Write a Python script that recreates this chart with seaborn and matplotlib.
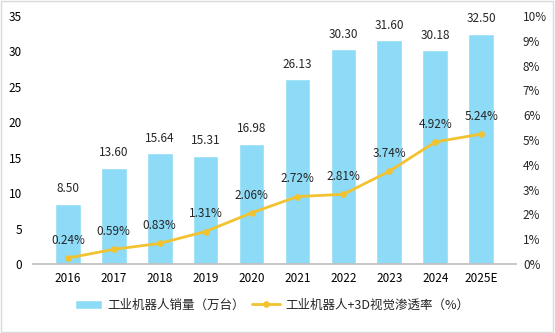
import matplotlib
matplotlib.use("Agg")
import matplotlib.pyplot as plt
import seaborn as sns
import pandas as pd
import numpy as np
from matplotlib.ticker import FuncFormatter

years = ["2016", "2017", "2018", "2019", "2020", "2021", "2022", "2023", "2024", "2025E"]
sales = [8.50, 13.60, 15.64, 15.31, 16.98, 26.13, 30.30, 31.60, 30.18, 32.50]
rate = [0.24, 0.59, 0.83, 1.31, 2.06, 2.72, 2.81, 3.74, 4.92, 5.24]

sns.set_theme(style="white")
plt.rcParams['font.family'] = ['Noto Sans CJK SC', 'DejaVu Sans']

df = pd.DataFrame({"year": years, "sales": sales, "rate": rate})

fig = plt.figure(figsize=(5.55, 3.33), dpi=100)
ax = fig.add_axes([33/555, 1-264/333, (516-33)/555, (264-16)/333])
bar_color = "#8DDBF6"
line_color = "#F2C230"
fs = 8.5

sns.barplot(data=df, x="year", y="sales", color=bar_color, width=0.56, ax=ax,
            saturation=1, label="工业机器人销量（万台）")
ax.set_ylim(0, 35)
ax.set_yticks(range(0, 36, 5))
ax.set_xlabel("")
ax.set_ylabel("")
for s in ["top", "right", "left"]:
    ax.spines[s].set_visible(False)
ax.spines["bottom"].set_color("#BFBFBF")
ax.tick_params(axis="both", labelsize=fs, length=0, colors="#000000")
ax.tick_params(axis="x", pad=6)
ax.tick_params(axis="y", pad=8)
for i, v in enumerate(sales):
    ax.annotate(f"{v:.2f}", (i, v), xytext=(0, 6), textcoords="offset points",
                ha="center", va="bottom", fontsize=fs)

ax2 = ax.twinx()
sns.lineplot(data=df, x="year", y="rate", color=line_color, marker="o", markersize=4,
             markeredgecolor=line_color, linewidth=2, ax=ax2, sort=False,
             label="工业机器人+3D视觉渗透率（%）")
ax2.set_ylim(0, 10)
ax2.set_yticks(range(0, 11, 1))
ax2.yaxis.set_major_formatter(FuncFormatter(lambda v, p: f"{int(v)}%"))
ax2.set_ylabel("")
ax2.set_xlabel("")
for s in ["top", "right", "left", "bottom"]:
    ax2.spines[s].set_visible(False)
ax2.tick_params(axis="y", labelsize=fs, length=0, pad=5)
for i, v in enumerate(rate):
    ax2.annotate(f"{v:.2f}%", (i, v), xytext=(0, 8), textcoords="offset points",
                 ha="center", va="bottom", fontsize=fs)

h1, l1 = ax.get_legend_handles_labels()
h2, l2 = ax2.get_legend_handles_labels()
if ax.get_legend():
    ax.get_legend().remove()
if ax2.get_legend():
    ax2.get_legend().remove()
fig.legend(h1 + h2, l1 + l2, loc="center", bbox_to_anchor=(0.49, 1-305/333), ncol=2,
           frameon=False, fontsize=9, handlelength=2.2, columnspacing=0.6, handletextpad=0.4)

border = plt.Rectangle((0.002, 0.003), 0.995, 0.994, transform=fig.transFigure,
                       fill=False, edgecolor="#D9D9D9", linewidth=1)
fig.patches.append(border)

fig.savefig("out.png", dpi=100)
